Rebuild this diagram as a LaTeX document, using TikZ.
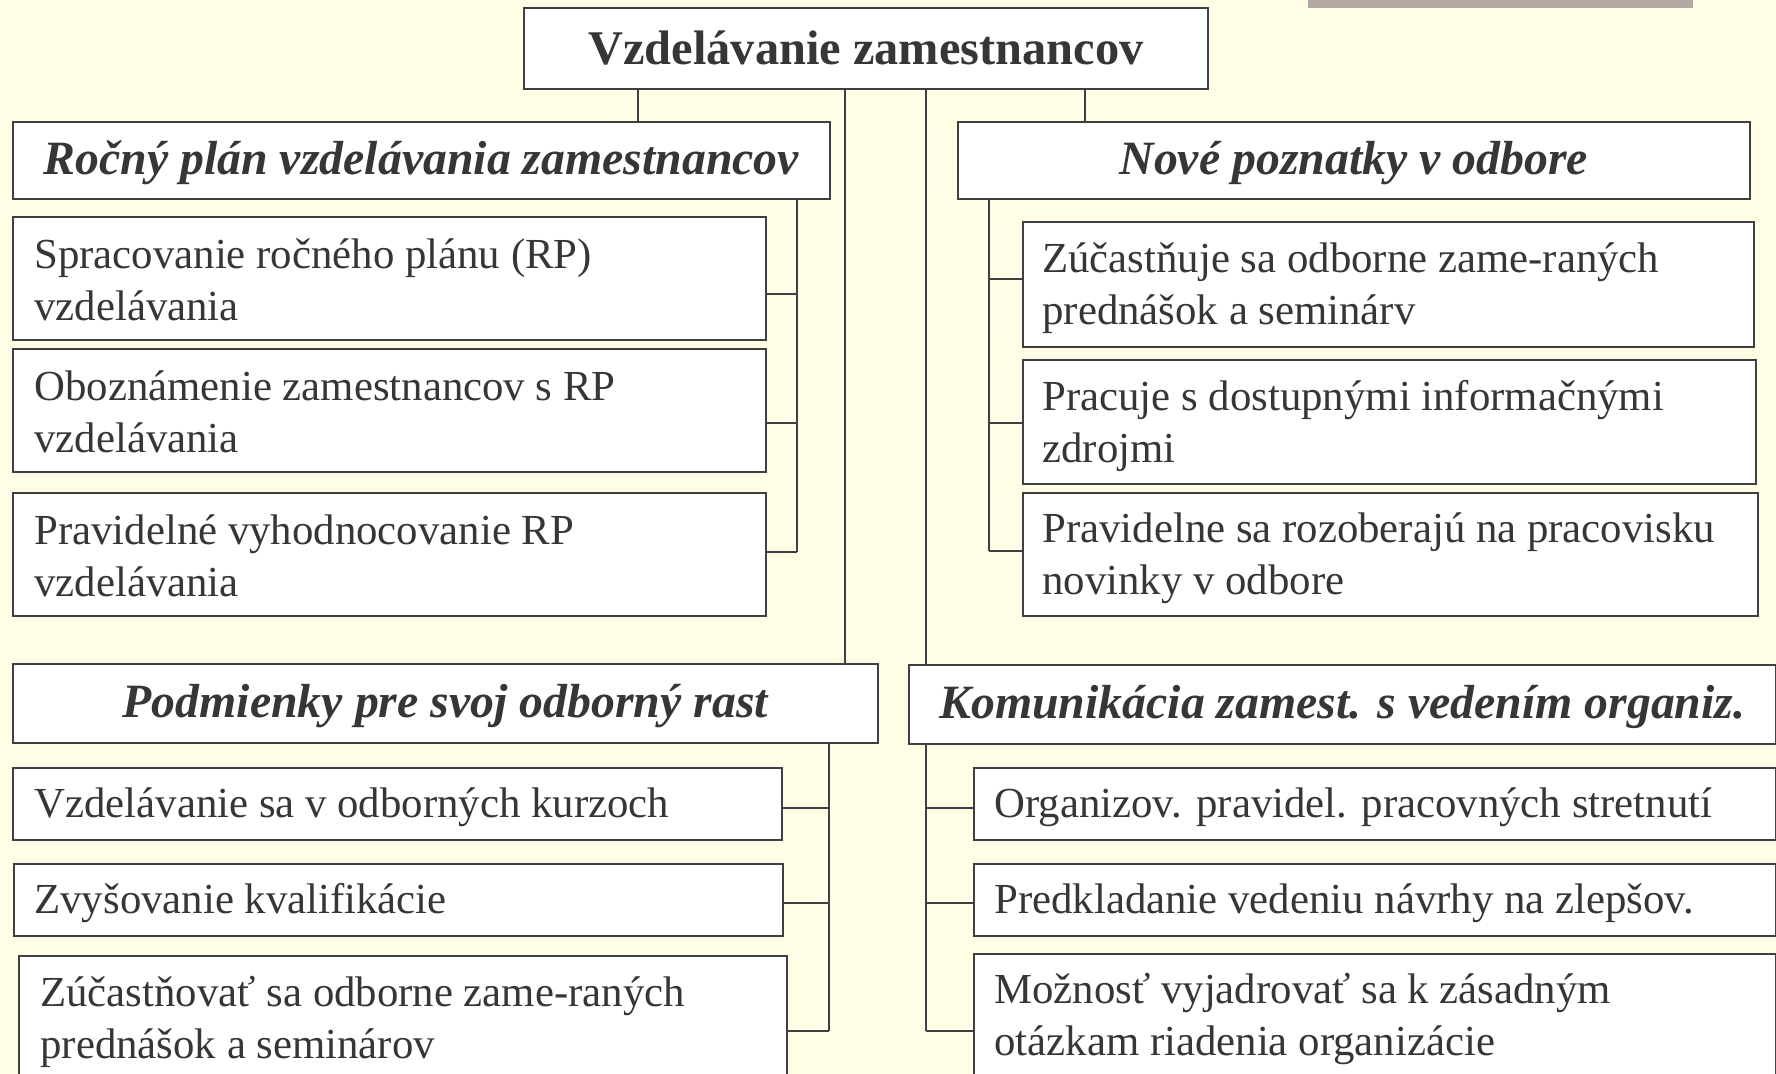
\documentclass[tikz,border=0pt]{standalone}
\usepackage{fontspec}
\setmainfont{Liberation Serif}
\definecolor{bg}{HTML}{FFFDE6}
\definecolor{lc}{HTML}{404040}
\definecolor{tc}{HTML}{363636}
\definecolor{bar}{HTML}{B3A8A4}
\newcommand\bodyfnt{\fontsize{21.4}{26}\selectfont}
\newcommand\headfnt{\bfseries\itshape\fontsize{23.9}{28}\selectfont}
\newcommand\titlefnt{\bfseries\fontsize{24.2}{29}\selectfont}
\begin{document}
\begin{tikzpicture}[x=0.5pt,y=-0.5pt,
  frame/.style={draw=lc,fill=white,line width=0.8pt,inner sep=0pt},
  topbox/.style={frame,anchor=center,text=tc,font=\titlefnt},
  headbox/.style={frame,anchor=north west,text=tc,font=\headfnt,text height=20pt,text depth=6pt},
  leafbox/.style={frame,anchor=north west},
  leaftxt/.style={anchor=west,inner sep=0pt,align=left,text=tc,font=\bodyfnt},
  conn/.style={draw=lc,line width=0.8pt}]
\useasboundingbox (0,0) rectangle (1776,1074);
\clip (0,0) rectangle (1776,1074);
\fill[bg] (0,0) rectangle (1776,1074);
\fill[bar] (1308,0) rectangle (1693,8);

% top
\node[topbox,minimum width=342pt,minimum height=40.5pt] (top) at (866,48.5) {Vzdelávanie zamestnancov};

% headings
\node[headbox,minimum width=408.5pt,minimum height=38.5pt] (R) at (12,121) {Ročný plán vzdelávania zamestnancov};
\node[headbox,minimum width=396pt,minimum height=38.5pt] (N) at (957,121) {Nové poznatky v odbore};
\node[headbox,minimum width=432.5pt,minimum height=39.5pt] (P) at (12,663) {Podmienky pre svoj odborný rast};
\node[headbox,minimum width=433.5pt,minimum height=39.5pt] (K) at (908,664) {Komunikácia zamest. s vedením organiz.};

% left-top leaves
\node[leafbox,minimum width=376.5pt,minimum height=61.5pt] (R1) at (12,216) {};
\node[leaftxt] at ([xshift=11pt,yshift=-0.8pt]R1.west) {Spracovanie ročného plánu (RP)\\vzdelávania};
\node[leafbox,minimum width=376.5pt,minimum height=61.5pt] (R2) at (12,348) {};
\node[leaftxt] at ([xshift=11pt,yshift=-0.8pt]R2.west) {Oboznámenie zamestnancov s RP\\vzdelávania};
\node[leafbox,minimum width=376.5pt,minimum height=61.5pt] (R3) at (12,492) {};
\node[leaftxt] at ([xshift=11pt,yshift=-0.8pt]R3.west) {Pravidelné vyhodnocovanie RP\\vzdelávania};

% right-top leaves
\node[leafbox,minimum width=365.5pt,minimum height=62.5pt] (N1) at (1022,221) {};
\node[leaftxt] at ([xshift=10pt,yshift=-2pt]N1.west) {Zúčastňuje sa odborne zame-raných\\prednášok a seminárv};
\node[leafbox,minimum width=366.5pt,minimum height=62pt] (N2) at (1022,359) {};
\node[leaftxt] at ([xshift=10pt,yshift=-2pt]N2.west) {Pracuje s dostupnými informačnými\\zdrojmi};
\node[leafbox,minimum width=367.5pt,minimum height=61.5pt] (N3) at (1022,492) {};
\node[leaftxt] at ([xshift=10pt,yshift=-2pt]N3.west) {Pravidelne sa rozoberajú na pracovisku\\novinky v odbore};

% left-bottom leaves
\node[leafbox,minimum width=384.5pt,minimum height=36pt] (P1) at (12,767) {};
\node[leaftxt] at ([xshift=11pt,yshift=-1.5pt]P1.west) {Vzdelávanie sa v odborných kurzoch};
\node[leafbox,minimum width=384.5pt,minimum height=36pt] (P2) at (13,863) {};
\node[leaftxt] at ([xshift=10.5pt,yshift=-1.5pt]P2.west) {Zvyšovanie kvalifikácie};
\node[leafbox,minimum width=384pt,minimum height=64pt] (P3) at (18,955) {};
\node[leaftxt] at ([xshift=11pt,yshift=-1pt]P3.west) {Zúčastňovať sa odborne zame-raných\\prednášok a seminárov};

% right-bottom leaves
\node[leafbox,minimum width=401pt,minimum height=36pt] (K1) at (973,767) {};
\node[leaftxt] at ([xshift=10.5pt,yshift=-1.5pt]K1.west) {Organizov. pravidel. pracovných stretnutí};
\node[leafbox,minimum width=401pt,minimum height=36pt] (K2) at (973,863) {};
\node[leaftxt] at ([xshift=10.5pt,yshift=-1.5pt]K2.west) {Predkladanie vedeniu návrhy na zlepšov.};
\node[leafbox,minimum width=401pt,minimum height=65pt] (K3) at (973,953) {};
\node[leaftxt] at ([xshift=10.5pt]K3.west) {Možnosť vyjadrovať sa k zásadným\\otázkam riadenia organizácie};

% bus coordinates
\coordinate (xa) at (638,0);
\coordinate (xb) at (845,0);
\coordinate (xc) at (926,0);
\coordinate (xd) at (1085,0);
\coordinate (r1) at (797,294); \coordinate (r2) at (797,423); \coordinate (r3) at (797,552);
\coordinate (n1) at (989,279); \coordinate (n2) at (989,423); \coordinate (n3) at (989,551);
\coordinate (p1) at (829,808); \coordinate (p2) at (829,903); \coordinate (p3) at (829,1031);
\coordinate (k1) at (926,808); \coordinate (k2) at (926,903); \coordinate (k3) at (926,1031);

% top connectors
\draw[conn] (top.south -| xa) -- (R.north -| xa);
\draw[conn] (top.south -| xd) -- (N.north -| xd);
\draw[conn] (top.south -| xb) -- (P.north -| xb);
\draw[conn] (top.south -| xc) -- (K.north -| xc);

% R bus
\draw[conn] (R.south -| r1) -- (r3);
\draw[conn] (R1.east |- r1) -- (r1);
\draw[conn] (R2.east |- r2) -- (r2);
\draw[conn] (R3.east |- r3) -- (r3);
% N bus
\draw[conn] (N.south -| n1) -- (n3);
\draw[conn] (N1.west |- n1) -- (n1);
\draw[conn] (N2.west |- n2) -- (n2);
\draw[conn] (N3.west |- n3) -- (n3);
% P bus
\draw[conn] (P.south -| p1) -- (p3);
\draw[conn] (P1.east |- p1) -- (p1);
\draw[conn] (P2.east |- p2) -- (p2);
\draw[conn] (P3.east |- p3) -- (p3);
% K bus
\draw[conn] (K.south -| k1) -- (k3);
\draw[conn] (K1.west |- k1) -- (k1);
\draw[conn] (K2.west |- k2) -- (k2);
\draw[conn] (K3.west |- k3) -- (k3);
\end{tikzpicture}
\end{document}
